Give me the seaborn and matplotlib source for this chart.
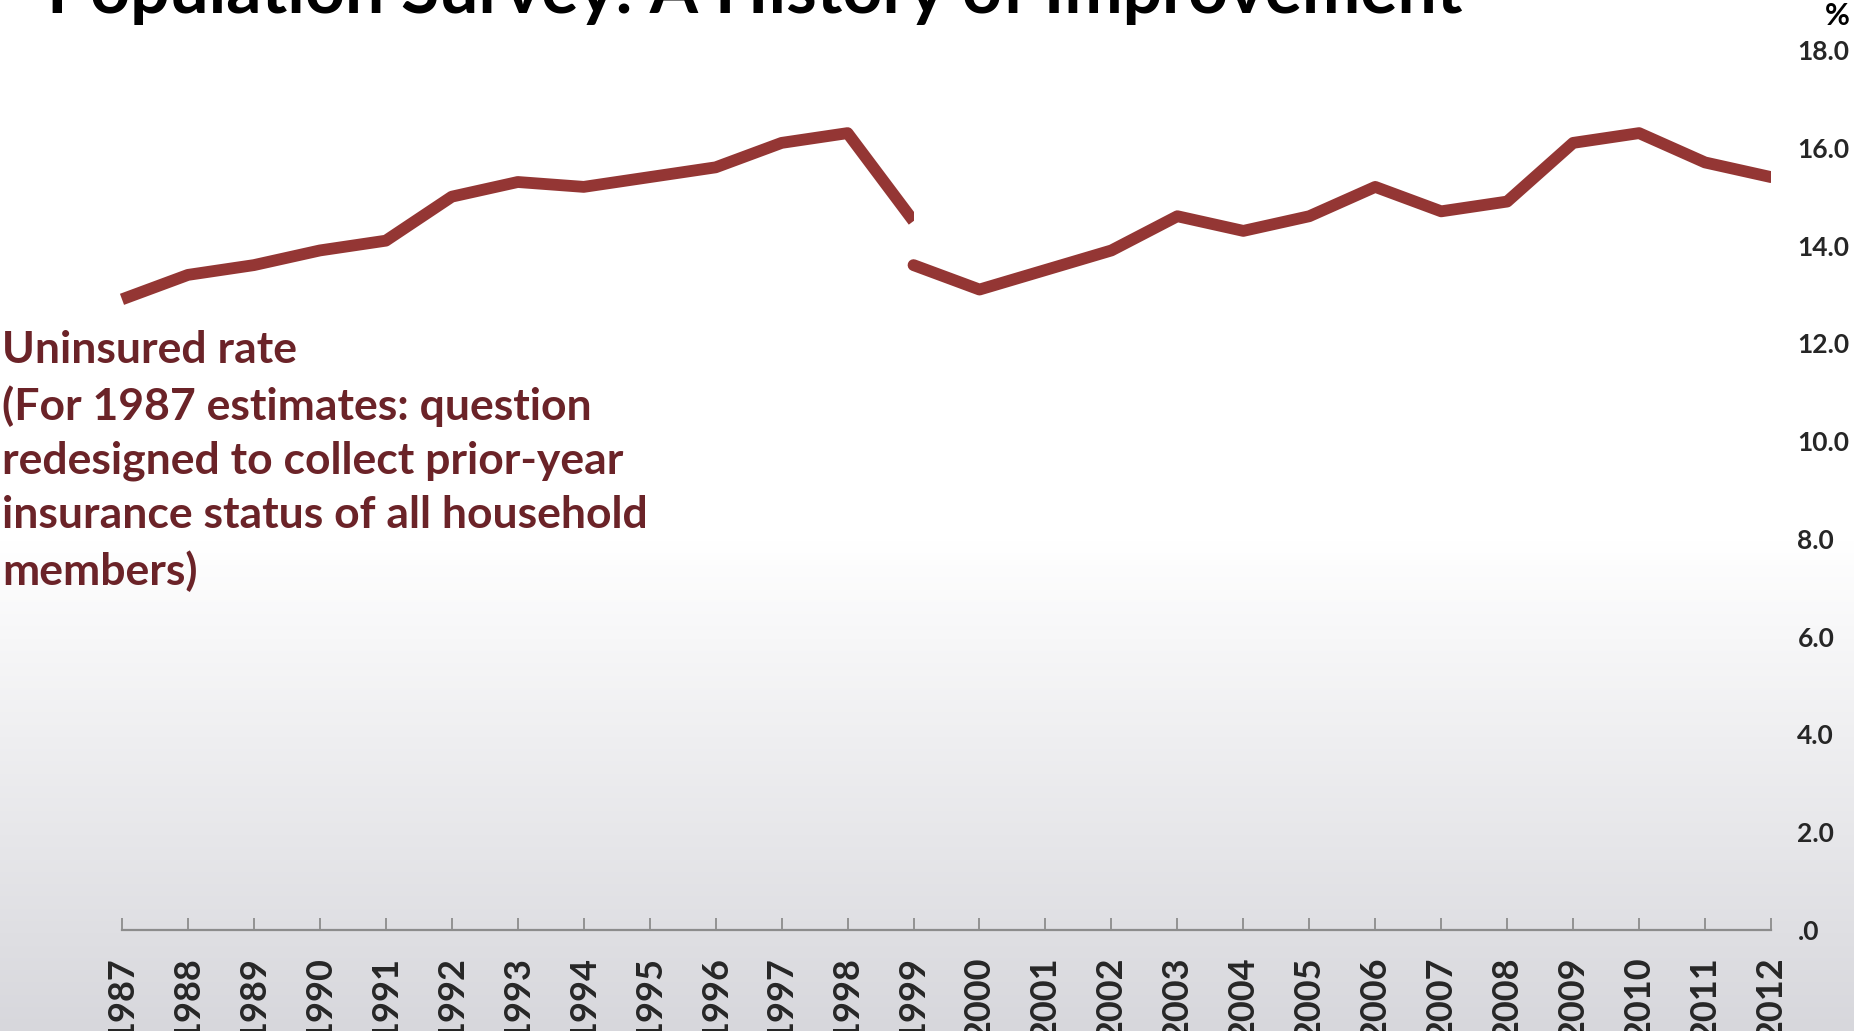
import numpy as np
import matplotlib
matplotlib.use("Agg")
import matplotlib.pyplot as plt
import seaborn as sns
from matplotlib.patches import Rectangle

# Uninsured rate, CPS, old method (1987-1999) and redesigned method (1999-2012)
years_old = [1987, 1988, 1989, 1990, 1991, 1992, 1993, 1994, 1995, 1996, 1997, 1998, 1999]
rate_old = [12.9, 13.4, 13.6, 13.9, 14.1, 15.0, 15.3, 15.2, 15.4, 15.6, 16.1, 16.3, 14.5]

years_new = [1999, 2000, 2001, 2002, 2003, 2004, 2005, 2006, 2007, 2008, 2009, 2010, 2011, 2012]
rate_new = [13.6, 13.1, 13.5, 13.9, 14.6, 14.3, 14.6, 15.2, 14.7, 14.9, 16.1, 16.3, 15.7, 15.4]

x_ticks = list(range(1987, 2013))
y_ticks = [0, 2, 4, 6, 8, 10, 12, 14, 16, 18]
y_tick_labels = [".0", "2.0", "4.0", "6.0", "8.0", "10.0", "12.0", "14.0", "16.0", "18.0"]

title_txt = "Population Survey: A History of Improvement"
note_txt = ("Uninsured rate\n(For 1987 estimates: question\nredesigned to collect prior-year\n"
            "insurance status of all household\nmembers)")

sns.set_style("white")
plt.rcParams['font.family'] = ['Lato', 'DejaVu Sans']

W, H = 1854, 1031
fig = plt.figure(figsize=(W / 100, H / 100), dpi=100)

# background: white fading to light grey at the bottom
bg = fig.add_axes([0, 0, 1, 1], zorder=0)
rows = np.arange(H)
t = np.clip((rows - 540) / (H - 540), 0, 1)
grad = np.zeros((H, 1, 3))
grad[:, 0, 0] = (255 - 40 * t) / 255
grad[:, 0, 1] = (255 - 40 * t) / 255
grad[:, 0, 2] = (255 - 35 * t) / 255
bg.imshow(grad, aspect='auto', extent=[0, 1, 0, 1])
bg.axis('off')

# plotting area
left, right = 122 / W, 1771 / W
bottom, top = 1 - 930 / H, 1 - 50 / H
ax = fig.add_axes([left, bottom, right - left, top - bottom], zorder=1)
ax.set_facecolor('none')

line_col = '#943634'
sns.lineplot(x=years_old, y=rate_old, ax=ax, color=line_col, lw=8.5,
             solid_capstyle='butt', solid_joinstyle='round')
sns.lineplot(x=years_new, y=rate_new, ax=ax, color=line_col, lw=8.5,
             solid_capstyle='round', solid_joinstyle='round')

# old series is cut straight at 1999
clip = Rectangle((1980, -10), 19, 50, transform=ax.transData)
ax.lines[0].set_clip_path(clip)

ax.set_xlim(1987, 2012)
ax.set_ylim(0, 18)
ax.set_xlabel('')
ax.set_ylabel('')

ax.set_xticks(x_ticks)
ax.set_xticklabels([str(y) for y in x_ticks], rotation=90, fontsize=26, fontweight='bold')
ax.tick_params(axis='x', bottom=True, direction='in', length=8.6, width=1.3,
               color='#8c8c8c', pad=19)

ax.yaxis.tick_right()
ax.set_yticks(y_ticks)
ax.set_yticklabels(y_tick_labels, fontsize=19, fontweight='bold')
ax.tick_params(axis='y', right=True, length=0, pad=19)

for s in ['left', 'top', 'right']:
    ax.spines[s].set_visible(False)
ax.spines['bottom'].set_color('#8c8c8c')
ax.spines['bottom'].set_linewidth(1.6)

# texts
fig.text(47 / W, 1 - 13 / H, title_txt, fontsize=50, fontweight='bold', color='black',
         va='baseline', ha='left')
fig.text(1850 / W, 1 - 16 / H, "%", fontsize=22, fontweight='bold', color='black',
         va='center', ha='right')
fig.text(2 / W, 1 - 330 / H, note_txt, fontsize=32, fontweight='bold', color='#6b2328',
         va='top', ha='left', linespacing=1.43)

plt.savefig('out.png', dpi=100)
